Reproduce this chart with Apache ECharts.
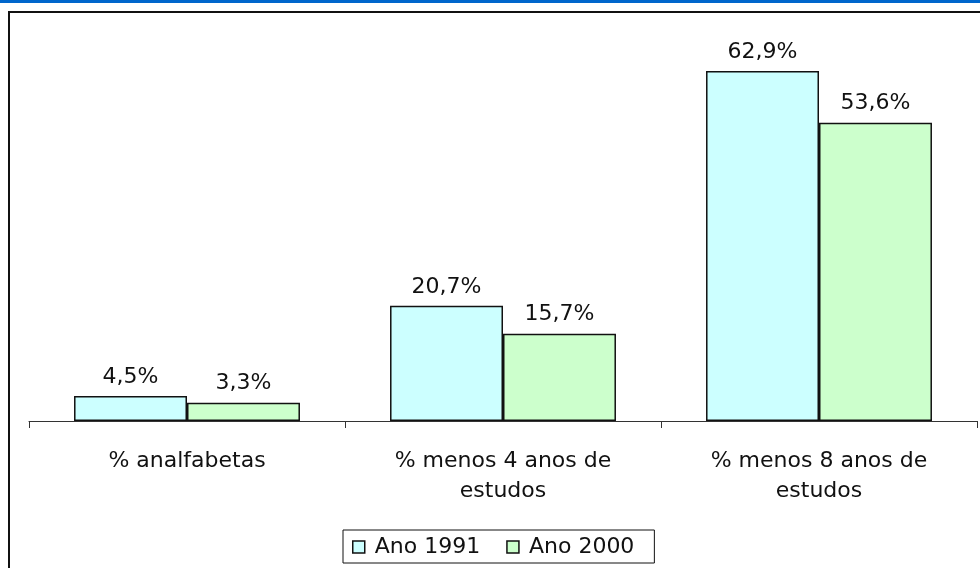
<!DOCTYPE html>
<html>
<head>
<meta charset="utf-8">
<script src="https://cdn.jsdelivr.net/npm/echarts@6/dist/echarts.min.js"></script>
<style>
  html, body { margin: 0; padding: 0; background: #fff; }
  #main { width: 980px; height: 568px; }
</style>
</head>
<body>
<div id="main"></div>
<script>
// dados do grafico
var categorias = ['% analfabetas', '% menos 4 anos de\nestudos', '% menos 8 anos de\nestudos']
var ano1991 = [4.5, 20.7, 62.9]
var ano2000 = [3.3, 15.7, 53.6]
var nomesSeries = ['Ano 1991', 'Ano 2000']

var fonte = 'Verdana, "DejaVu Sans", sans-serif'

var myChart = echarts.init(document.getElementById('main'))

function rotulo(p) {
  return p.value.toFixed(1).replace('.', ',') + '%'
}

var option = {
  animation: false,
  backgroundColor: '#fff',
  graphic: [
    {
      type: 'rect',
      shape: { x: 0, y: 0, width: 980, height: 3 },
      style: { fill: '#0066cc' }
    },
    {
      type: 'rect',
      shape: { x: 9, y: 12, width: 1000, height: 600 },
      style: { fill: 'none', stroke: '#111', lineWidth: 2 }
    }
  ],
  grid: {
    left: 29,
    right: 3,
    top: 31.5,
    bottom: 147
  },
  legend: {
    bottom: 5,
    left: 343,
    data: nomesSeries,
    backgroundColor: '#fff',
    borderColor: '#111',
    borderWidth: 1,
    padding: [6, 20, 5, 9],
    itemGap: 26,
    itemWidth: 12,
    itemHeight: 12,
    icon: 'rect',
    itemStyle: { borderColor: '#111', borderWidth: 1.5 },
    textStyle: { fontFamily: fonte, fontSize: 22, color: '#111', padding: [0, 0, 0, 5] }
  },
  xAxis: {
    type: 'category',
    data: categorias,
    axisLine: { lineStyle: { color: '#333', width: 1 } },
    axisTick: { show: true, length: 7, lineStyle: { color: '#333' } },
    axisLabel: {
      interval: 0,
      margin: 25,
      fontFamily: fonte,
      fontSize: 22,
      lineHeight: 30,
      color: '#111'
    }
  },
  yAxis: {
    type: 'value',
    min: 0,
    max: 70,
    show: false
  },
  series: [
    {
      name: nomesSeries[0],
      type: 'bar',
      data: ano1991,
      barGap: '0%',
      barCategoryGap: '28.5%',
      itemStyle: { color: '#ccffff', borderColor: '#111', borderWidth: 1.5 },
      label: {
        show: true,
        position: 'top',
        distance: 8,
        formatter: rotulo,
        fontFamily: fonte,
        fontSize: 22,
        color: '#111'
      }
    },
    {
      name: nomesSeries[1],
      type: 'bar',
      data: ano2000,
      barGap: '0%',
      barCategoryGap: '28.5%',
      itemStyle: { color: '#ccffcc', borderColor: '#111', borderWidth: 1.5 },
      label: {
        show: true,
        position: 'top',
        distance: 8,
        formatter: rotulo,
        fontFamily: fonte,
        fontSize: 22,
        color: '#111'
      }
    }
  ]
}

myChart.setOption(option)
</script>
</body>
</html>
